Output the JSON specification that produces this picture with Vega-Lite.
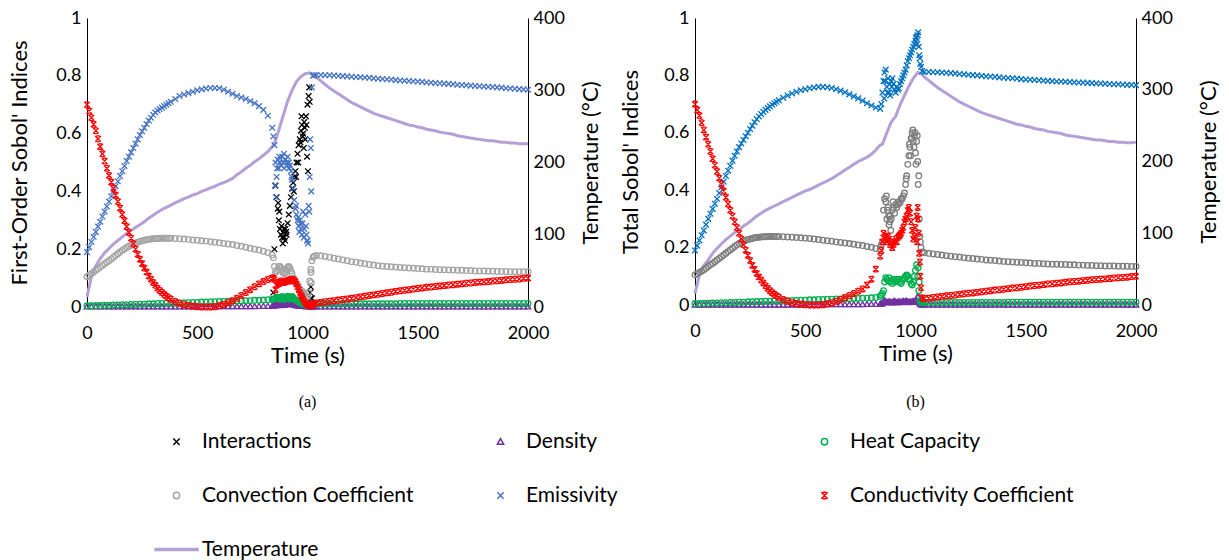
{
"$schema": "https://vega.github.io/schema/vega-lite/v6.json",
"padding": {"left": 8, "top": 9, "right": 2, "bottom": 5},
"spacing": 17,
"config": {
  "font": "Lato",
  "view": {"stroke": null},
  "axis": {"grid": false, "ticks": false, "labelFont": "Lato", "labelFontSize": 18, "labelColor": "#000", "titleFont": "Lato", "titleFontSize": 22, "titleFontWeight": "normal", "titleColor": "#000", "domainColor": "#000", "domainWidth": 1},
  "legend": {"orient": "none", "direction": "horizontal", "legendX": 79, "legendY": 413, "columns": 3, "gridAlign": "all", "columnPadding": 48, "rowPadding": 32, "labelFont": "Lato", "labelFontSize": 21, "labelColor": "#000", "labelOffset": 15, "labelLimit": 400, "symbolStrokeWidth": 1.5, "symbolSize": 40},
  "title": {"font": "Liberation Serif", "fontSize": 16, "fontWeight": "normal", "color": "#000"}
},
"datasets": {
"A": [
{"t":0,"b":0.001,"c":0.004,"d":0.105,"e":0.19,"f":0.70,"T":14},
{"t":20,"b":0.001,"c":0.004,"d":0.115,"e":0.225,"f":0.655,"T":42},
{"t":40,"b":0.001,"c":0.005,"d":0.127,"e":0.26,"f":0.61,"T":57},
{"t":60,"b":0.001,"c":0.005,"d":0.138,"e":0.295,"f":0.555,"T":67},
{"t":80,"b":0.001,"c":0.006,"d":0.15,"e":0.33,"f":0.505,"T":75},
{"t":100,"b":0.001,"c":0.006,"d":0.16,"e":0.365,"f":0.455,"T":81},
{"t":120,"b":0.001,"c":0.007,"d":0.172,"e":0.40,"f":0.41,"T":87},
{"t":140,"b":0.001,"c":0.007,"d":0.184,"e":0.435,"f":0.365,"T":92},
{"t":160,"b":0.001,"c":0.008,"d":0.196,"e":0.47,"f":0.32,"T":97},
{"t":180,"b":0.001,"c":0.008,"d":0.206,"e":0.505,"f":0.278,"T":102},
{"t":200,"b":0.001,"c":0.009,"d":0.214,"e":0.535,"f":0.238,"T":106},
{"t":220,"b":0.001,"c":0.009,"d":0.221,"e":0.565,"f":0.2,"T":110},
{"t":240,"b":0.001,"c":0.01,"d":0.227,"e":0.595,"f":0.165,"T":114},
{"t":260,"b":0.001,"c":0.01,"d":0.231,"e":0.62,"f":0.135,"T":118},
{"t":280,"b":0.001,"c":0.011,"d":0.234,"e":0.645,"f":0.107,"T":123},
{"t":300,"b":0.001,"c":0.011,"d":0.236,"e":0.665,"f":0.085,"T":127},
{"t":320,"b":0.001,"c":0.012,"d":0.237,"e":0.68,"f":0.065,"T":131},
{"t":340,"b":0.001,"c":0.012,"d":0.238,"e":0.69,"f":0.05,"T":135},
{"t":360,"b":0.001,"c":0.013,"d":0.238,"e":0.70,"f":0.037,"T":138},
{"t":380,"b":0.001,"c":0.013,"d":0.238,"e":0.71,"f":0.027,"T":141},
{"t":400,"b":0.001,"c":0.014,"d":0.237,"e":0.72,"f":0.019,"T":144},
{"t":420,"b":0.001,"c":0.014,"d":0.236,"e":0.73,"f":0.013,"T":147},
{"t":440,"b":0.001,"c":0.015,"d":0.235,"e":0.735,"f":0.008,"T":150},
{"t":460,"b":0.001,"c":0.015,"d":0.234,"e":0.74,"f":0.005,"T":152},
{"t":480,"b":0.001,"c":0.016,"d":0.232,"e":0.745,"f":0.003,"T":155},
{"t":500,"b":0.001,"c":0.016,"d":0.231,"e":0.75,"f":0.001,"T":157},
{"t":520,"b":0.001,"c":0.017,"d":0.229,"e":0.753,"f":0.0,"T":160},
{"t":540,"b":0.001,"c":0.017,"d":0.228,"e":0.756,"f":0.0,"T":162},
{"t":560,"b":0.001,"c":0.018,"d":0.226,"e":0.758,"f":0.0,"T":165},
{"t":580,"b":0.001,"c":0.018,"d":0.224,"e":0.758,"f":0.001,"T":167},
{"t":600,"b":0.002,"c":0.019,"d":0.222,"e":0.757,"f":0.004,"T":170},
{"t":620,"b":0.002,"c":0.019,"d":0.22,"e":0.752,"f":0.009,"T":172},
{"t":640,"b":0.002,"c":0.02,"d":0.218,"e":0.745,"f":0.015,"T":175},
{"t":660,"b":0.002,"c":0.02,"d":0.216,"e":0.738,"f":0.022,"T":178},
{"t":680,"b":0.002,"c":0.021,"d":0.213,"e":0.73,"f":0.03,"T":183},
{"t":700,"b":0.002,"c":0.021,"d":0.21,"e":0.725,"f":0.04,"T":187},
{"t":720,"b":0.002,"c":0.022,"d":0.207,"e":0.72,"f":0.05,"T":192},
{"t":740,"b":0.002,"c":0.022,"d":0.203,"e":0.713,"f":0.06,"T":196},
{"t":760,"b":0.002,"c":0.023,"d":0.2,"e":0.705,"f":0.07,"T":201},
{"t":780,"b":0.003,"c":0.023,"d":0.197,"e":0.695,"f":0.08,"T":205},
{"t":800,"b":0.003,"c":0.024,"d":0.193,"e":0.682,"f":0.088,"T":210},
{"t":820,"b":0.003,"c":0.025,"d":0.188,"e":0.662,"f":0.095,"T":215},
{"t":840,"b":0.004,"c":0.026,"d":0.18,"e":0.62,"f":0.10,"T":222},
{"t":845,"a":0.05,"b":0.004,"c":0.027,"d":0.17,"e":0.59,"f":0.10},
{"t":850,"a":0.20,"b":0.005,"c":0.028,"d":0.14,"e":0.56,"f":0.095,"T":226},
{"t":855,"a":0.42,"b":0.006,"c":0.03,"d":0.12,"e":0.50,"f":0.06},
{"t":860,"a":0.38,"b":0.008,"c":0.032,"d":0.125,"e":0.45,"f":0.075},
{"t":865,"a":0.34,"b":0.01,"c":0.034,"d":0.13,"e":0.51,"f":0.085},
{"t":870,"a":0.30,"b":0.008,"c":0.03,"d":0.14,"e":0.48,"f":0.08,"T":245},
{"t":875,"a":0.27,"b":0.006,"c":0.027,"d":0.14,"e":0.50,"f":0.085},
{"t":880,"a":0.25,"b":0.009,"c":0.032,"d":0.135,"e":0.49,"f":0.09},
{"t":885,"a":0.24,"b":0.012,"c":0.036,"d":0.125,"e":0.52,"f":0.085},
{"t":890,"a":0.26,"b":0.01,"c":0.03,"d":0.118,"e":0.50,"f":0.088,"T":265},
{"t":895,"a":0.24,"b":0.007,"c":0.026,"d":0.115,"e":0.48,"f":0.085},
{"t":900,"a":0.27,"b":0.009,"c":0.03,"d":0.12,"e":0.51,"f":0.09},
{"t":905,"a":0.25,"b":0.011,"c":0.034,"d":0.13,"e":0.50,"f":0.088},
{"t":910,"a":0.29,"b":0.012,"c":0.037,"d":0.138,"e":0.52,"f":0.09,"T":285},
{"t":915,"a":0.32,"b":0.01,"c":0.033,"d":0.14,"e":0.50,"f":0.092},
{"t":920,"a":0.35,"b":0.008,"c":0.028,"d":0.135,"e":0.49,"f":0.095},
{"t":925,"a":0.38,"b":0.01,"c":0.033,"d":0.125,"e":0.47,"f":0.09},
{"t":930,"a":0.41,"b":0.012,"c":0.036,"d":0.115,"e":0.44,"f":0.093,"T":300},
{"t":935,"a":0.43,"b":0.01,"c":0.032,"d":0.10,"e":0.41,"f":0.095},
{"t":940,"a":0.45,"b":0.008,"c":0.027,"d":0.092,"e":0.37,"f":0.092},
{"t":945,"a":0.47,"b":0.007,"c":0.025,"d":0.085,"e":0.34,"f":0.088},
{"t":950,"a":0.50,"b":0.006,"c":0.022,"d":0.08,"e":0.32,"f":0.08,"T":312},
{"t":955,"a":0.53,"b":0.005,"c":0.02,"d":0.075,"e":0.30,"f":0.07},
{"t":960,"a":0.56,"b":0.005,"c":0.018,"d":0.068,"e":0.28,"f":0.06},
{"t":965,"a":0.58,"b":0.004,"c":0.016,"d":0.062,"e":0.30,"f":0.05},
{"t":970,"a":0.61,"b":0.004,"c":0.014,"d":0.058,"e":0.27,"f":0.042,"T":319},
{"t":975,"a":0.63,"b":0.003,"c":0.012,"d":0.055,"e":0.25,"f":0.035},
{"t":980,"a":0.60,"b":0.003,"c":0.01,"d":0.05,"e":0.33,"f":0.028},
{"t":985,"a":0.64,"b":0.003,"c":0.009,"d":0.047,"e":0.27,"f":0.02},
{"t":990,"a":0.58,"b":0.002,"c":0.008,"d":0.042,"e":0.32,"f":0.015,"T":323},
{"t":995,"a":0.63,"b":0.002,"c":0.007,"d":0.038,"e":0.25,"f":0.01},
{"t":1000,"a":0.70,"b":0.002,"c":0.006,"d":0.035,"e":0.23,"f":0.008},
{"t":1005,"a":0.73,"b":0.002,"c":0.005,"d":0.05,"e":0.35,"f":0.006},
{"t":1010,"a":0.71,"b":0.002,"c":0.005,"d":0.09,"e":0.45,"f":0.004,"T":324},
{"t":1015,"a":0.07,"b":0.001,"c":0.006,"d":0.13,"e":0.55,"f":0.003},
{"t":1020,"a":0.03,"b":0.001,"c":0.01,"d":0.16,"e":0.76,"f":0.008},
{"t":1025,"b":0.001,"c":0.012,"d":0.172,"e":0.80,"f":0.011},
{"t":1030,"b":0.001,"c":0.013,"d":0.176,"e":0.802,"f":0.012,"T":320},
{"t":852,"e":0.42},{"t":857,"e":0.38},{"t":862,"e":0.48},{"t":867,"a":0.36},{"t":872,"e":0.52,"a":0.33},{"t":882,"a":0.28},{"t":888,"a":0.22},{"t":893,"e":0.53,"a":0.27},{"t":898,"a":0.23},{"t":903,"a":0.26},{"t":908,"e":0.49},{"t":918,"e":0.48},{"t":928,"e":0.45},{"t":938,"a":0.40},{"t":948,"a":0.45,"e":0.35},{"t":958,"a":0.50,"e":0.31},{"t":963,"e":0.26},{"t":968,"a":0.57,"e":0.29},{"t":973,"a":0.66},{"t":978,"a":0.59,"e":0.29},{"t":983,"a":0.55,"e":0.24},{"t":988,"a":0.62},{"t":993,"a":0.66,"e":0.28},{"t":998,"a":0.52,"e":0.23},{"t":1002,"e":0.22,"a":0.47},{"t":1008,"a":0.76,"e":0.33},{"t":1012,"e":0.58,"a":0.05},{"t":1017,"e":0.40,"d":0.085},{"t":1016,"d":0.12,"a":0.03},
{"t":10,"d":0.11,"e":0.207,"f":0.678},{"t":30,"d":0.121,"e":0.243,"f":0.632},{"t":50,"d":0.132,"e":0.278,"f":0.582},{"t":70,"d":0.144,"e":0.313,"f":0.53},{"t":90,"d":0.155,"e":0.348,"f":0.48},{"t":110,"d":0.166,"e":0.383,"f":0.432},{"t":130,"d":0.178,"e":0.418,"f":0.387},{"t":150,"d":0.19,"e":0.453,"f":0.342},{"t":170,"d":0.201,"e":0.488,"f":0.299},{"t":190,"d":0.21,"e":0.52,"f":0.258},{"t":210,"d":0.218,"e":0.55,"f":0.219},{"t":230,"d":0.224,"e":0.58,"f":0.182},{"t":250,"d":0.229,"e":0.608,"f":0.15},{"t":270,"d":0.233,"e":0.633,"f":0.121},{"t":290,"d":0.235,"e":0.655,"f":0.096},{"t":310,"d":0.237,"e":0.673,"f":0.075},{"t":330,"d":0.238,"e":0.685,"f":0.057},{"t":350,"d":0.238,"e":0.695,"f":0.043},{"t":370,"d":0.238,"e":0.705,"f":0.032},
{"t":1040,"b":0.001,"c":0.011,"d":0.178,"e":0.803,"f":0.014,"T":318},
{"t":1060,"b":0.001,"c":0.011,"d":0.177,"e":0.803,"f":0.016,"T":313},
{"t":1080,"b":0.001,"c":0.011,"d":0.175,"e":0.802,"f":0.018,"T":308},
{"t":1100,"b":0.001,"c":0.011,"d":0.172,"e":0.802,"f":0.02,"T":303},
{"t":1120,"b":0.001,"c":0.011,"d":0.169,"e":0.801,"f":0.022,"T":299},
{"t":1140,"b":0.001,"c":0.011,"d":0.166,"e":0.80,"f":0.024,"T":295},
{"t":1160,"b":0.001,"c":0.011,"d":0.163,"e":0.799,"f":0.026,"T":291},
{"t":1180,"b":0.001,"c":0.011,"d":0.16,"e":0.798,"f":0.028,"T":287},
{"t":1200,"b":0.001,"c":0.011,"d":0.157,"e":0.797,"f":0.03,"T":283},
{"t":1220,"b":0.001,"c":0.011,"d":0.155,"e":0.796,"f":0.032,"T":280},
{"t":1240,"b":0.001,"c":0.011,"d":0.152,"e":0.795,"f":0.035,"T":277},
{"t":1260,"b":0.001,"c":0.011,"d":0.15,"e":0.794,"f":0.037,"T":274},
{"t":1280,"b":0.001,"c":0.011,"d":0.147,"e":0.793,"f":0.04,"T":271},
{"t":1300,"b":0.001,"c":0.011,"d":0.145,"e":0.791,"f":0.042,"T":268},
{"t":1320,"b":0.001,"c":0.011,"d":0.143,"e":0.79,"f":0.044,"T":266},
{"t":1340,"b":0.001,"c":0.011,"d":0.141,"e":0.789,"f":0.047,"T":264},
{"t":1360,"b":0.001,"c":0.011,"d":0.14,"e":0.788,"f":0.049,"T":262},
{"t":1380,"b":0.001,"c":0.011,"d":0.139,"e":0.787,"f":0.051,"T":260},
{"t":1400,"b":0.001,"c":0.011,"d":0.138,"e":0.785,"f":0.054,"T":258},
{"t":1420,"b":0.001,"c":0.012,"d":0.137,"e":0.784,"f":0.056,"T":256},
{"t":1440,"b":0.001,"c":0.012,"d":0.136,"e":0.783,"f":0.058,"T":254},
{"t":1460,"b":0.001,"c":0.012,"d":0.135,"e":0.782,"f":0.06,"T":252},
{"t":1480,"b":0.001,"c":0.012,"d":0.134,"e":0.781,"f":0.062,"T":251},
{"t":1500,"b":0.001,"c":0.012,"d":0.133,"e":0.78,"f":0.064,"T":249},
{"t":1520,"b":0.001,"c":0.012,"d":0.132,"e":0.779,"f":0.066,"T":248},
{"t":1540,"b":0.001,"c":0.012,"d":0.131,"e":0.777,"f":0.068,"T":246},
{"t":1560,"b":0.001,"c":0.012,"d":0.131,"e":0.776,"f":0.069,"T":245},
{"t":1580,"b":0.001,"c":0.012,"d":0.13,"e":0.775,"f":0.071,"T":244},
{"t":1600,"b":0.001,"c":0.012,"d":0.129,"e":0.774,"f":0.073,"T":242},
{"t":1620,"b":0.001,"c":0.012,"d":0.129,"e":0.773,"f":0.074,"T":241},
{"t":1640,"b":0.001,"c":0.012,"d":0.128,"e":0.772,"f":0.076,"T":240},
{"t":1660,"b":0.001,"c":0.012,"d":0.128,"e":0.771,"f":0.077,"T":239},
{"t":1680,"b":0.001,"c":0.012,"d":0.127,"e":0.769,"f":0.079,"T":237},
{"t":1700,"b":0.001,"c":0.012,"d":0.127,"e":0.768,"f":0.08,"T":236},
{"t":1720,"b":0.001,"c":0.012,"d":0.126,"e":0.767,"f":0.082,"T":235},
{"t":1740,"b":0.001,"c":0.012,"d":0.126,"e":0.766,"f":0.083,"T":234},
{"t":1760,"b":0.001,"c":0.012,"d":0.125,"e":0.765,"f":0.085,"T":233},
{"t":1780,"b":0.001,"c":0.012,"d":0.125,"e":0.764,"f":0.086,"T":232},
{"t":1800,"b":0.001,"c":0.012,"d":0.125,"e":0.763,"f":0.087,"T":231},
{"t":1820,"b":0.001,"c":0.012,"d":0.124,"e":0.762,"f":0.088,"T":230},
{"t":1840,"b":0.001,"c":0.012,"d":0.124,"e":0.761,"f":0.09,"T":230},
{"t":1860,"b":0.001,"c":0.012,"d":0.123,"e":0.76,"f":0.091,"T":229},
{"t":1880,"b":0.001,"c":0.012,"d":0.123,"e":0.759,"f":0.092,"T":228},
{"t":1900,"b":0.001,"c":0.012,"d":0.123,"e":0.757,"f":0.094,"T":228},
{"t":1920,"b":0.001,"c":0.012,"d":0.122,"e":0.756,"f":0.095,"T":227},
{"t":1940,"b":0.001,"c":0.012,"d":0.122,"e":0.755,"f":0.096,"T":227},
{"t":1960,"b":0.001,"c":0.012,"d":0.122,"e":0.754,"f":0.097,"T":226},
{"t":1980,"b":0.001,"c":0.012,"d":0.122,"e":0.753,"f":0.099,"T":226},
{"t":2000,"b":0.001,"c":0.012,"d":0.122,"e":0.752,"f":0.10,"T":226}
],
"B": [
{"t":0,"b":0.001,"c":0.005,"d":0.105,"e":0.19,"f":0.70,"T":16},
{"t":20,"b":0.001,"c":0.005,"d":0.113,"e":0.225,"f":0.66,"T":42},
{"t":40,"b":0.001,"c":0.006,"d":0.123,"e":0.26,"f":0.61,"T":55},
{"t":60,"b":0.001,"c":0.006,"d":0.134,"e":0.30,"f":0.56,"T":63},
{"t":80,"b":0.001,"c":0.007,"d":0.145,"e":0.335,"f":0.51,"T":72},
{"t":100,"b":0.001,"c":0.007,"d":0.157,"e":0.37,"f":0.465,"T":79},
{"t":120,"b":0.001,"c":0.008,"d":0.168,"e":0.41,"f":0.42,"T":85},
{"t":140,"b":0.001,"c":0.008,"d":0.18,"e":0.45,"f":0.375,"T":91},
{"t":160,"b":0.001,"c":0.009,"d":0.192,"e":0.485,"f":0.33,"T":96},
{"t":180,"b":0.001,"c":0.009,"d":0.204,"e":0.52,"f":0.29,"T":101},
{"t":200,"b":0.001,"c":0.01,"d":0.214,"e":0.55,"f":0.25,"T":105},
{"t":220,"b":0.001,"c":0.01,"d":0.222,"e":0.575,"f":0.21,"T":110},
{"t":240,"b":0.001,"c":0.011,"d":0.228,"e":0.60,"f":0.173,"T":114},
{"t":260,"b":0.001,"c":0.011,"d":0.232,"e":0.625,"f":0.138,"T":119},
{"t":280,"b":0.001,"c":0.012,"d":0.235,"e":0.648,"f":0.11,"T":124},
{"t":300,"b":0.001,"c":0.012,"d":0.237,"e":0.665,"f":0.087,"T":128},
{"t":320,"b":0.001,"c":0.013,"d":0.238,"e":0.68,"f":0.067,"T":132},
{"t":340,"b":0.001,"c":0.013,"d":0.239,"e":0.692,"f":0.05,"T":135},
{"t":360,"b":0.001,"c":0.014,"d":0.239,"e":0.703,"f":0.037,"T":138},
{"t":380,"b":0.001,"c":0.014,"d":0.239,"e":0.713,"f":0.027,"T":141},
{"t":400,"b":0.001,"c":0.015,"d":0.238,"e":0.722,"f":0.019,"T":144},
{"t":420,"b":0.001,"c":0.015,"d":0.237,"e":0.73,"f":0.013,"T":147},
{"t":440,"b":0.001,"c":0.016,"d":0.236,"e":0.737,"f":0.008,"T":150},
{"t":460,"b":0.001,"c":0.016,"d":0.235,"e":0.743,"f":0.005,"T":153},
{"t":480,"b":0.001,"c":0.017,"d":0.234,"e":0.748,"f":0.003,"T":156},
{"t":500,"b":0.001,"c":0.017,"d":0.233,"e":0.752,"f":0.001,"T":159},
{"t":520,"b":0.001,"c":0.018,"d":0.232,"e":0.755,"f":0.0,"T":161},
{"t":540,"b":0.001,"c":0.018,"d":0.23,"e":0.758,"f":0.0,"T":164},
{"t":560,"b":0.001,"c":0.019,"d":0.228,"e":0.76,"f":0.0,"T":167},
{"t":580,"b":0.001,"c":0.019,"d":0.226,"e":0.76,"f":0.001,"T":170},
{"t":600,"b":0.002,"c":0.02,"d":0.224,"e":0.759,"f":0.004,"T":173},
{"t":620,"b":0.002,"c":0.02,"d":0.222,"e":0.756,"f":0.008,"T":176},
{"t":640,"b":0.002,"c":0.021,"d":0.22,"e":0.752,"f":0.013,"T":180},
{"t":660,"b":0.002,"c":0.021,"d":0.218,"e":0.747,"f":0.019,"T":184},
{"t":680,"b":0.002,"c":0.022,"d":0.216,"e":0.741,"f":0.026,"T":188},
{"t":700,"b":0.002,"c":0.022,"d":0.214,"e":0.734,"f":0.033,"T":192},
{"t":720,"b":0.002,"c":0.023,"d":0.212,"e":0.727,"f":0.04,"T":196},
{"t":740,"b":0.002,"c":0.023,"d":0.209,"e":0.72,"f":0.048,"T":200},
{"t":760,"b":0.002,"c":0.024,"d":0.207,"e":0.712,"f":0.056,"T":203},
{"t":780,"b":0.003,"c":0.024,"d":0.204,"e":0.703,"f":0.07,"T":206},
{"t":800,"b":0.003,"c":0.025,"d":0.201,"e":0.695,"f":0.09,"T":210},
{"t":820,"b":0.003,"c":0.026,"d":0.197,"e":0.688,"f":0.125,"T":216},
{"t":840,"b":0.004,"c":0.03,"d":0.195,"e":0.683,"f":0.17,"T":223},
{"t":845,"b":0.004,"c":0.035,"d":0.21,"e":0.70,"f":0.19},
{"t":850,"b":0.006,"c":0.04,"d":0.22,"e":0.74,"f":0.22,"T":224},
{"t":855,"b":0.01,"c":0.05,"d":0.33,"e":0.78,"f":0.25},
{"t":860,"b":0.015,"c":0.08,"d":0.37,"e":0.81,"f":0.23},
{"t":865,"b":0.012,"c":0.095,"d":0.36,"e":0.82,"f":0.24},
{"t":870,"b":0.008,"c":0.09,"d":0.30,"e":0.76,"f":0.22,"T":240},
{"t":875,"b":0.01,"c":0.085,"d":0.34,"e":0.79,"f":0.24},
{"t":880,"b":0.012,"c":0.095,"d":0.28,"e":0.74,"f":0.23},
{"t":885,"b":0.01,"c":0.08,"d":0.31,"e":0.73,"f":0.21},
{"t":890,"b":0.008,"c":0.085,"d":0.30,"e":0.78,"f":0.22,"T":255},
{"t":895,"b":0.009,"c":0.075,"d":0.33,"e":0.79,"f":0.20},
{"t":900,"b":0.011,"c":0.09,"d":0.34,"e":0.77,"f":0.21},
{"t":905,"b":0.013,"c":0.085,"d":0.32,"e":0.75,"f":0.22},
{"t":910,"b":0.01,"c":0.08,"d":0.35,"e":0.74,"f":0.23,"T":263},
{"t":915,"b":0.008,"c":0.09,"d":0.34,"e":0.76,"f":0.22},
{"t":920,"b":0.01,"c":0.085,"d":0.35,"e":0.75,"f":0.235},
{"t":925,"b":0.012,"c":0.09,"d":0.36,"e":0.755,"f":0.24},
{"t":930,"b":0.01,"c":0.08,"d":0.355,"e":0.77,"f":0.245,"T":279},
{"t":935,"b":0.009,"c":0.075,"d":0.37,"e":0.78,"f":0.25},
{"t":940,"b":0.011,"c":0.085,"d":0.37,"e":0.79,"f":0.26},
{"t":945,"b":0.013,"c":0.09,"d":0.38,"e":0.80,"f":0.27},
{"t":950,"b":0.01,"c":0.095,"d":0.39,"e":0.81,"f":0.29,"T":292},
{"t":955,"b":0.012,"c":0.10,"d":0.42,"e":0.82,"f":0.30},
{"t":960,"b":0.014,"c":0.105,"d":0.45,"e":0.835,"f":0.31},
{"t":965,"b":0.011,"c":0.10,"d":0.49,"e":0.85,"f":0.33},
{"t":970,"b":0.009,"c":0.09,"d":0.52,"e":0.86,"f":0.34,"T":305},
{"t":975,"b":0.012,"c":0.085,"d":0.55,"e":0.87,"f":0.32},
{"t":980,"b":0.01,"c":0.075,"d":0.58,"e":0.88,"f":0.29},
{"t":985,"b":0.011,"c":0.07,"d":0.60,"e":0.89,"f":0.26},
{"t":990,"b":0.013,"c":0.08,"d":0.57,"e":0.90,"f":0.23,"T":316},
{"t":995,"b":0.01,"c":0.10,"d":0.59,"e":0.91,"f":0.24},
{"t":1000,"b":0.012,"c":0.12,"d":0.53,"e":0.92,"f":0.27},
{"t":1005,"b":0.015,"c":0.14,"d":0.57,"e":0.935,"f":0.31},
{"t":1010,"b":0.03,"c":0.10,"d":0.50,"e":0.94,"f":0.34,"T":324},
{"t":1015,"b":0.01,"c":0.05,"d":0.45,"e":0.90,"f":0.25},
{"t":1020,"b":0.005,"c":0.015,"d":0.24,"e":0.86,"f":0.15},
{"t":1025,"b":0.002,"c":0.01,"d":0.20,"e":0.83,"f":0.06},
{"t":1030,"b":0.001,"c":0.009,"d":0.185,"e":0.815,"f":0.025,"T":322},
{"t":858,"e":0.72},{"t":863,"e":0.78},{"t":868,"d":0.38},{"t":873,"e":0.74,"d":0.33},{"t":878,"d":0.31},{"t":883,"e":0.77,"d":0.29},{"t":888,"d":0.26},{"t":893,"e":0.76},{"t":898,"d":0.36},{"t":958,"d":0.44},{"t":972,"d":0.56},{"t":978,"d":0.52},{"t":983,"d":0.58},{"t":988,"d":0.61},{"t":993,"d":0.55},{"t":998,"d":0.60},{"t":1002,"d":0.49,"e":0.93},{"t":1008,"d":0.59,"e":0.91,"f":0.22},{"t":1012,"d":0.42,"e":0.95,"f":0.30,"c":0.13},{"t":1017,"d":0.30,"e":0.87,"f":0.18,"c":0.08},{"t":1022,"d":0.22,"e":0.84,"f":0.10},{"t":1013,"b":0.03},
{"t":10,"d":0.109,"e":0.207,"f":0.68},{"t":30,"d":0.118,"e":0.243,"f":0.635},{"t":50,"d":0.128,"e":0.28,"f":0.585},{"t":70,"d":0.14,"e":0.318,"f":0.535},{"t":90,"d":0.151,"e":0.353,"f":0.487},{"t":110,"d":0.162,"e":0.39,"f":0.442},{"t":130,"d":0.174,"e":0.43,"f":0.397},{"t":150,"d":0.186,"e":0.468,"f":0.352},{"t":170,"d":0.198,"e":0.503,"f":0.31},{"t":190,"d":0.209,"e":0.535,"f":0.27},{"t":210,"d":0.218,"e":0.563,"f":0.23},{"t":230,"d":0.225,"e":0.588,"f":0.191},{"t":250,"d":0.23,"e":0.613,"f":0.155},{"t":270,"d":0.234,"e":0.637,"f":0.124},{"t":290,"d":0.236,"e":0.657,"f":0.098},{"t":310,"d":0.238,"e":0.673,"f":0.077},{"t":330,"d":0.239,"e":0.686,"f":0.058},{"t":350,"d":0.239,"e":0.698,"f":0.043},{"t":370,"d":0.239,"e":0.708,"f":0.032},
{"t":1040,"b":0.001,"c":0.009,"d":0.182,"e":0.812,"f":0.023,"T":318},
{"t":1060,"b":0.001,"c":0.009,"d":0.18,"e":0.812,"f":0.024,"T":313},
{"t":1080,"b":0.001,"c":0.009,"d":0.178,"e":0.811,"f":0.026,"T":308},
{"t":1100,"b":0.001,"c":0.009,"d":0.176,"e":0.811,"f":0.028,"T":303},
{"t":1120,"b":0.001,"c":0.009,"d":0.174,"e":0.81,"f":0.03,"T":299},
{"t":1140,"b":0.001,"c":0.009,"d":0.172,"e":0.809,"f":0.032,"T":295},
{"t":1160,"b":0.001,"c":0.009,"d":0.17,"e":0.808,"f":0.033,"T":291},
{"t":1180,"b":0.001,"c":0.009,"d":0.168,"e":0.807,"f":0.035,"T":287},
{"t":1200,"b":0.001,"c":0.009,"d":0.167,"e":0.805,"f":0.037,"T":283},
{"t":1220,"b":0.001,"c":0.009,"d":0.165,"e":0.804,"f":0.039,"T":280},
{"t":1240,"b":0.001,"c":0.009,"d":0.163,"e":0.802,"f":0.041,"T":277},
{"t":1260,"b":0.001,"c":0.009,"d":0.162,"e":0.801,"f":0.042,"T":274},
{"t":1280,"b":0.001,"c":0.009,"d":0.16,"e":0.80,"f":0.044,"T":271},
{"t":1300,"b":0.001,"c":0.009,"d":0.159,"e":0.798,"f":0.046,"T":268},
{"t":1320,"b":0.001,"c":0.009,"d":0.157,"e":0.797,"f":0.048,"T":266},
{"t":1340,"b":0.001,"c":0.009,"d":0.156,"e":0.796,"f":0.05,"T":264},
{"t":1360,"b":0.001,"c":0.009,"d":0.155,"e":0.795,"f":0.052,"T":262},
{"t":1380,"b":0.001,"c":0.009,"d":0.153,"e":0.793,"f":0.053,"T":260},
{"t":1400,"b":0.001,"c":0.009,"d":0.152,"e":0.792,"f":0.055,"T":258},
{"t":1420,"b":0.001,"c":0.01,"d":0.151,"e":0.791,"f":0.057,"T":256},
{"t":1440,"b":0.001,"c":0.01,"d":0.15,"e":0.79,"f":0.059,"T":254},
{"t":1460,"b":0.001,"c":0.01,"d":0.149,"e":0.789,"f":0.06,"T":252},
{"t":1480,"b":0.001,"c":0.01,"d":0.148,"e":0.787,"f":0.062,"T":251},
{"t":1500,"b":0.001,"c":0.01,"d":0.147,"e":0.786,"f":0.064,"T":249},
{"t":1520,"b":0.001,"c":0.01,"d":0.146,"e":0.785,"f":0.066,"T":248},
{"t":1540,"b":0.001,"c":0.01,"d":0.145,"e":0.784,"f":0.068,"T":246},
{"t":1560,"b":0.001,"c":0.01,"d":0.145,"e":0.783,"f":0.069,"T":245},
{"t":1580,"b":0.001,"c":0.01,"d":0.144,"e":0.782,"f":0.071,"T":244},
{"t":1600,"b":0.001,"c":0.01,"d":0.143,"e":0.781,"f":0.073,"T":242},
{"t":1620,"b":0.001,"c":0.01,"d":0.142,"e":0.78,"f":0.074,"T":241},
{"t":1640,"b":0.001,"c":0.01,"d":0.142,"e":0.779,"f":0.076,"T":240},
{"t":1660,"b":0.001,"c":0.01,"d":0.141,"e":0.779,"f":0.077,"T":239},
{"t":1680,"b":0.001,"c":0.01,"d":0.141,"e":0.778,"f":0.079,"T":237},
{"t":1700,"b":0.001,"c":0.01,"d":0.14,"e":0.777,"f":0.081,"T":236},
{"t":1720,"b":0.001,"c":0.01,"d":0.14,"e":0.776,"f":0.082,"T":235},
{"t":1740,"b":0.001,"c":0.01,"d":0.139,"e":0.775,"f":0.083,"T":234},
{"t":1760,"b":0.001,"c":0.01,"d":0.139,"e":0.775,"f":0.085,"T":233},
{"t":1780,"b":0.001,"c":0.01,"d":0.138,"e":0.774,"f":0.086,"T":232},
{"t":1800,"b":0.001,"c":0.01,"d":0.138,"e":0.773,"f":0.088,"T":231},
{"t":1820,"b":0.001,"c":0.01,"d":0.137,"e":0.772,"f":0.089,"T":230},
{"t":1840,"b":0.001,"c":0.01,"d":0.137,"e":0.772,"f":0.09,"T":230},
{"t":1860,"b":0.001,"c":0.01,"d":0.136,"e":0.771,"f":0.091,"T":229},
{"t":1880,"b":0.001,"c":0.01,"d":0.136,"e":0.77,"f":0.092,"T":228},
{"t":1900,"b":0.001,"c":0.01,"d":0.136,"e":0.769,"f":0.094,"T":228},
{"t":1920,"b":0.001,"c":0.01,"d":0.135,"e":0.769,"f":0.095,"T":227},
{"t":1940,"b":0.001,"c":0.01,"d":0.135,"e":0.768,"f":0.096,"T":227},
{"t":1960,"b":0.001,"c":0.01,"d":0.135,"e":0.767,"f":0.097,"T":226},
{"t":1980,"b":0.001,"c":0.01,"d":0.134,"e":0.767,"f":0.099,"T":226},
{"t":2000,"b":0.001,"c":0.01,"d":0.134,"e":0.766,"f":0.10,"T":227}
]
},
"hconcat": [
{
  "width": 441, "height": 289,
  "data": {"name": "A"},
  "title": {"text": "(a)", "orient": "bottom", "anchor": "middle", "offset": 28},
  "layer": [
    {
      "transform": [{"filter": "isValid(datum.T)"}],
      "mark": {"type": "line", "color": "#B4A0D6", "strokeWidth": 3},
      "encoding": {
        "x": {"field": "t", "type": "quantitative", "scale": {"domain": [0, 2000], "nice": false}, "axis": {"values": [0, 500, 1000, 1500, 2000], "format": "d", "title": "Time (s)", "domain": false, "labelFlush": false, "labelPadding": 17, "titlePadding": 3}},
        "y": {"field": "T", "type": "quantitative", "scale": {"domain": [0, 400], "nice": false}, "axis": {"orient": "right", "values": [0, 100, 200, 300, 400], "format": "d", "title": "Temperature (°C)", "titleAngle": 270, "titleBaseline": "top", "labelPadding": 5, "titlePadding": 16}}
      }
    },
    {
      "transform": [{"fold": ["a", "b", "c", "d", "e", "f"], "as": ["s", "v"]}, {"filter": "isValid(datum.v)"}],
      "mark": {"type": "point", "filled": false, "strokeWidth": 1.3, "size": 32, "opacity": 1},
      "encoding": {
        "x": {"field": "t", "type": "quantitative", "scale": {"domain": [0, 2000], "nice": false}, "axis": {"values": [0, 500, 1000, 1500, 2000], "format": "d", "title": "Time (s)", "domain": false, "labelFlush": false, "labelPadding": 17, "titlePadding": 3}},
        "y": {"field": "v", "type": "quantitative", "scale": {"domain": [0, 1], "nice": false}, "axis": {"values": [0, 0.2, 0.4, 0.6, 0.8, 1], "format": "~g", "title": "First-Order Sobol' Indices", "labelPadding": 6, "titlePadding": 24}},
        "order": {"field": "s"},
        "color": {"field": "s", "type": "nominal", "scale": {"domain": ["a", "b", "c", "d", "e", "f", "T"], "range": ["#000000", "#7030A0", "#00B050", "#A5A5A5", "#4472C4", "#FF0000", "#B4A0D6"]}, "legend": {"title": null, "values": ["a", "b", "c", "d", "e", "f", "T"], "labelExpr": "datum.label==='a'?'Interactions':datum.label==='b'?'Density':datum.label==='c'?'Heat Capacity':datum.label==='d'?'Convection Coefficient':datum.label==='e'?'Emissivity':datum.label==='f'?'Conductivity Coefficient':'Temperature'"}},
        "shape": {"field": "s", "type": "nominal", "scale": {"domain": ["a", "b", "c", "d", "e", "f", "T"], "range": ["M-7,0M-1,-1L1,1M-1,1L1,-1", "M-7,0M0,-1L1,0.8L-1,0.8Z", "M-7,0M-1,0A1,1,0,1,1,1,0A1,1,0,1,1,-1,0Z", "M-7,0M-1,0A1,1,0,1,1,1,0A1,1,0,1,1,-1,0Z", "M-7,0M-1,-1L1,1M-1,1L1,-1", "M-7,0M-1,-1L1,1M-1,1L1,-1M-0.6,-1L0.6,-1M-0.6,1L0.6,1", "M-7,-0.35L7,-0.35M-7,0L7,0M-7,0.35L7,0.35"]}, "legend": {"title": null, "values": ["a", "b", "c", "d", "e", "f", "T"], "labelExpr": "datum.label==='a'?'Interactions':datum.label==='b'?'Density':datum.label==='c'?'Heat Capacity':datum.label==='d'?'Convection Coefficient':datum.label==='e'?'Emissivity':datum.label==='f'?'Conductivity Coefficient':'Temperature'"}}
      }
    }
  ],
  "resolve": {"scale": {"y": "independent"}}
},
{
  "width": 441, "height": 287,
  "data": {"name": "B"},
  "title": {"text": "(b)", "orient": "bottom", "anchor": "middle", "offset": 30},
  "layer": [
    {
      "transform": [{"filter": "isValid(datum.T)"}],
      "mark": {"type": "line", "color": "#B4A0D6", "strokeWidth": 3},
      "encoding": {
        "x": {"field": "t", "type": "quantitative", "scale": {"domain": [0, 2000], "nice": false}, "axis": {"values": [0, 500, 1000, 1500, 2000], "format": "d", "title": "Time (s)", "domain": false, "labelFlush": false, "labelPadding": 17, "titlePadding": 3}},
        "y": {"field": "T", "type": "quantitative", "scale": {"domain": [0, 400], "nice": false}, "axis": {"orient": "right", "values": [0, 100, 200, 300, 400], "format": "d", "title": "Temperature (°C)", "titleAngle": 270, "titleBaseline": "top", "labelPadding": 5, "titlePadding": 26}}
      }
    },
    {
      "transform": [{"fold": ["a", "b", "c", "d", "e", "f"], "as": ["s", "v"]}, {"filter": "isValid(datum.v)"}],
      "mark": {"type": "point", "filled": false, "strokeWidth": 1.3, "size": 32, "opacity": 1},
      "encoding": {
        "x": {"field": "t", "type": "quantitative", "scale": {"domain": [0, 2000], "nice": false}, "axis": {"values": [0, 500, 1000, 1500, 2000], "format": "d", "title": "Time (s)", "domain": false, "labelFlush": false, "labelPadding": 17, "titlePadding": 3}},
        "y": {"field": "v", "type": "quantitative", "scale": {"domain": [0, 1], "nice": false}, "axis": {"values": [0, 0.2, 0.4, 0.6, 0.8, 1], "format": "~g", "title": "Total Sobol' Indices", "labelPadding": 6, "titlePadding": 21}},
        "order": {"field": "s"},
        "color": {"field": "s", "type": "nominal", "condition": [{"test": "datum.s==='e'", "value": "#0070C0"}, {"test": "datum.s==='d'", "value": "#7F7F7F"}], "scale": {"domain": ["a", "b", "c", "d", "e", "f", "T"], "range": ["#000000", "#7030A0", "#00B050", "#A5A5A5", "#4472C4", "#FF0000", "#B4A0D6"]}, "legend": {"title": null, "values": ["a", "b", "c", "d", "e", "f", "T"], "labelExpr": "datum.label==='a'?'Interactions':datum.label==='b'?'Density':datum.label==='c'?'Heat Capacity':datum.label==='d'?'Convection Coefficient':datum.label==='e'?'Emissivity':datum.label==='f'?'Conductivity Coefficient':'Temperature'"}},
        "shape": {"field": "s", "type": "nominal", "scale": {"domain": ["a", "b", "c", "d", "e", "f", "T"], "range": ["M-7,0M-1,-1L1,1M-1,1L1,-1", "M-7,0M0,-1L1,0.8L-1,0.8Z", "M-7,0M-1,0A1,1,0,1,1,1,0A1,1,0,1,1,-1,0Z", "M-7,0M-1,0A1,1,0,1,1,1,0A1,1,0,1,1,-1,0Z", "M-7,0M-1,-1L1,1M-1,1L1,-1", "M-7,0M-1,-1L1,1M-1,1L1,-1M-0.6,-1L0.6,-1M-0.6,1L0.6,1", "M-7,-0.35L7,-0.35M-7,0L7,0M-7,0.35L7,0.35"]}, "legend": {"title": null, "values": ["a", "b", "c", "d", "e", "f", "T"], "labelExpr": "datum.label==='a'?'Interactions':datum.label==='b'?'Density':datum.label==='c'?'Heat Capacity':datum.label==='d'?'Convection Coefficient':datum.label==='e'?'Emissivity':datum.label==='f'?'Conductivity Coefficient':'Temperature'"}}
      }
    }
  ],
  "resolve": {"scale": {"y": "independent"}}
}
]
}
